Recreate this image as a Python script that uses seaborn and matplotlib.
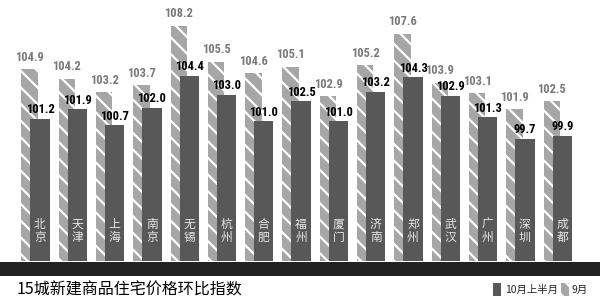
import matplotlib
matplotlib.use('Agg')
import matplotlib.pyplot as plt
import seaborn as sns
import pandas as pd
from matplotlib.patches import Rectangle
from matplotlib import font_manager as fm

cities = ['北京', '天津', '上海', '南京', '无锡', '杭州', '合肥', '福州', '厦门',
          '济南', '郑州', '武汉', '广州', '深圳', '成都']
sep_values = [104.9, 104.2, 103.2, 103.7, 108.2, 105.5, 104.6, 105.1, 102.9,
              105.2, 107.6, 103.9, 103.1, 101.9, 102.5]
oct_values = [101.2, 101.9, 100.7, 102.0, 104.4, 103.0, 101.0, 102.5, 101.0,
              103.2, 104.3, 102.9, 101.3, 99.7, 99.9]
series_names = ['10月上半月', '9月']
title = '15城新建商品住宅价格环比指数'

sns.set_theme(style='white')
plt.rcParams['font.family'] = ['Noto Sans CJK SC', 'DejaVu Sans']
plt.rcParams['hatch.linewidth'] = 1.6
plt.rcParams['hatch.color'] = 'white'

DARK = '#585858'
LIGHT = '#a6a6a6'

# choose a narrow font for the numbers
ttf = fm.fontManager.ttflist
names = {f.name for f in ttf}
num_kw = None
for cand in ['Liberation Sans Narrow', 'Roboto Condensed', 'Open Sans Condensed',
             'DejaVu Sans Condensed']:
    if cand in names:
        num_kw = dict(family=[cand, 'DejaVu Sans'], fontsize=9)
        break
if num_kw is None:
    cond = [f for f in ttf if f.name == 'DejaVu Sans' and 'condensed' in str(f.stretch)]
    if cond:
        num_kw = dict(family=['DejaVu Sans'], fontstretch='condensed', fontsize=8)
    else:
        num_kw = dict(family=['DejaVu Sans'], fontsize=7.5)

fig = plt.figure(figsize=(6, 3.01), dpi=100)
fig.patch.set_facecolor('white')
ax = fig.add_axes([0, 40 / 301, 1, 261 / 301])

df_sep = pd.DataFrame({'city': cities, 'value': sep_values})
df_oct = pd.DataFrame({'city': cities, 'value': oct_values})

sns.barplot(data=df_sep, x='city', y='value', color=LIGHT, order=cities,
            ax=ax, errorbar=None, saturation=1)
n = len(cities)
for i, p in enumerate(ax.patches[:n]):
    w = 0.44
    p.set_width(w)
    p.set_x(i - 0.28 - w / 2)
    p.set_facecolor(LIGHT)
    p.set_edgecolor('white')
    p.set_linewidth(0)
    p.set_hatch('\\\\')

sns.barplot(data=df_oct, x='city', y='value', color=DARK, order=cities,
            ax=ax, errorbar=None, saturation=1)
for i, p in enumerate(ax.patches[n:2 * n]):
    w = 0.52
    p.set_width(w)
    p.set_x(i - w / 2)
    p.set_facecolor(DARK)
    p.set_edgecolor(DARK)
    p.set_linewidth(0)

ax.set_ylim(90.5, 90.5 + 261 / 13.3)
xmin = -40 / 37.3
ax.set_xlim(xmin, xmin + 600 / 37.3)
ax.set_axis_off()

for i, (c, s, o) in enumerate(zip(cities, sep_values, oct_values)):
    ax.text(i - 0.28, s + 0.4, f'{s:.1f}', ha='center', va='bottom',
            color='#7a7a7a', fontweight='bold', **num_kw)
    ax.text(i, o + 0.2, f'{o:.1f}', ha='center', va='bottom',
            color='black', fontweight='bold', **num_kw)
    ax.text(i, 0.115, '\n'.join(c), transform=ax.get_xaxis_transform(),
            ha='center', va='center', color='#e6e6e6', fontsize=8.5,
            linespacing=1.0)

# dark band under the bars
fig.add_artist(Rectangle((0, 25 / 301), 1, 14 / 301, transform=fig.transFigure,
                         facecolor='#222222', edgecolor='none'))

fig.text(17 / 600, 1 - 290 / 301, title, fontsize=11.5, va='center', ha='left',
         color='black')

# legend
fig.add_artist(Rectangle((493 / 600, 1 - 296 / 301), 8 / 600, 13 / 301,
                         transform=fig.transFigure, facecolor=DARK,
                         edgecolor=DARK, linewidth=0))
fig.text(505 / 600, 1 - 290 / 301, series_names[0], fontsize=7.5, va='center',
         ha='left', color='#222222')
fig.add_artist(Rectangle((561 / 600, 1 - 296 / 301), 8 / 600, 13 / 301,
                         transform=fig.transFigure, facecolor=LIGHT,
                         edgecolor='white', linewidth=0, hatch='\\\\'))
fig.text(572 / 600, 1 - 290 / 301, series_names[1], fontsize=7.5, va='center',
         ha='left', color='#222222')

fig.savefig('out.png', dpi=100, facecolor='white')
